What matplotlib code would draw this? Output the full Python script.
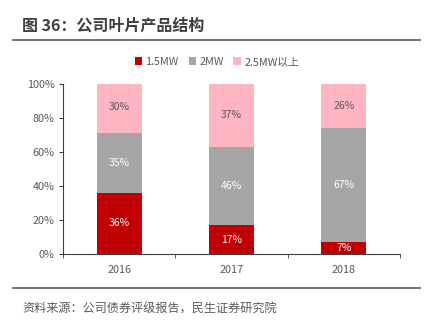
import matplotlib
matplotlib.use("Agg")
import matplotlib.pyplot as plt
from matplotlib.lines import Line2D
import numpy as np

plt.rcParams['font.family'] = ['Noto Sans CJK SC', 'DejaVu Sans']

years = ["2016", "2017", "2018"]
mw15 = [36, 17, 7]
mw2 = [35, 46, 67]
mw25 = [30, 37, 26]
series = ["1.5MW", "2MW", "2.5MW以上"]
colors = ["#C00000", "#A6A6A6", "#FFB6C1"]
label_colors = ["white", "white", "#595959"]

fig = plt.figure(figsize=(4.34, 3.28), dpi=100)
ax = fig.add_axes([63/434, 1 - 254/328, (400 - 63)/434, (254 - 83.5)/328])

x = np.arange(len(years))
bottom = np.zeros(len(years))
for vals, name, c, lc in zip([mw15, mw2, mw25], series, colors, label_colors):
    v = np.array(vals) / 100
    ax.bar(x, v, 0.4, bottom=bottom, color=c, label=name, edgecolor="none")
    for xi, b, h, n in zip(x, bottom, v, vals):
        ax.text(xi, b + h / 2, f"{n}%", ha="center", va="center",
                fontsize=7.5, color=lc)
    bottom += v

ax.set_xlim(-0.5, 2.5)
ax.set_ylim(0, 1)
ax.set_yticks(np.arange(0, 1.01, 0.2))
ax.set_yticklabels([f"{int(round(t*100))}%" for t in np.arange(0, 1.01, 0.2)])
ax.set_xticks(x)
ax.set_xticklabels(years)
ax.set_xticks([-0.5, 0.5, 1.5, 2.5], minor=True)
ax.tick_params(axis="x", which="major", length=0, pad=8)
ax.tick_params(axis="x", which="minor", length=3, color="#404040")
ax.tick_params(axis="y", length=3, color="#404040", pad=3)
ax.tick_params(labelsize=7.8, labelcolor="#595959")
for s in ["top", "right"]:
    ax.spines[s].set_visible(False)
for s in ["left", "bottom"]:
    ax.spines[s].set_color("#404040")
    ax.spines[s].set_linewidth(0.8)

ax.legend(loc="center", bbox_to_anchor=(0.5, (328 - 62) / 328), bbox_transform=fig.transFigure,
          ncol=3, frameon=False, fontsize=7.8, handlelength=0.7, handleheight=0.7,
          handletextpad=0.3, columnspacing=0.9, labelcolor="#595959")

# header and footer
fig.text(22/434, 1 - 26/328, "图 36：公司叶片产品结构", fontsize=11.5, fontweight="bold",
         color="#3F3F3F", va="center", ha="left")
fig.add_artist(Line2D([13/434, 420/434], [1 - 40/328] * 2, color="#595959", lw=1.2))
fig.add_artist(Line2D([13/434, 420/434], [1 - 288/328] * 2, color="#595959", lw=1.2))
fig.text(22/434, 1 - 309/328, "资料来源：公司债券评级报告，民生证券研究院", fontsize=8.7,
         color="#595959", va="center", ha="left")

fig.savefig("out.png", dpi=100)
